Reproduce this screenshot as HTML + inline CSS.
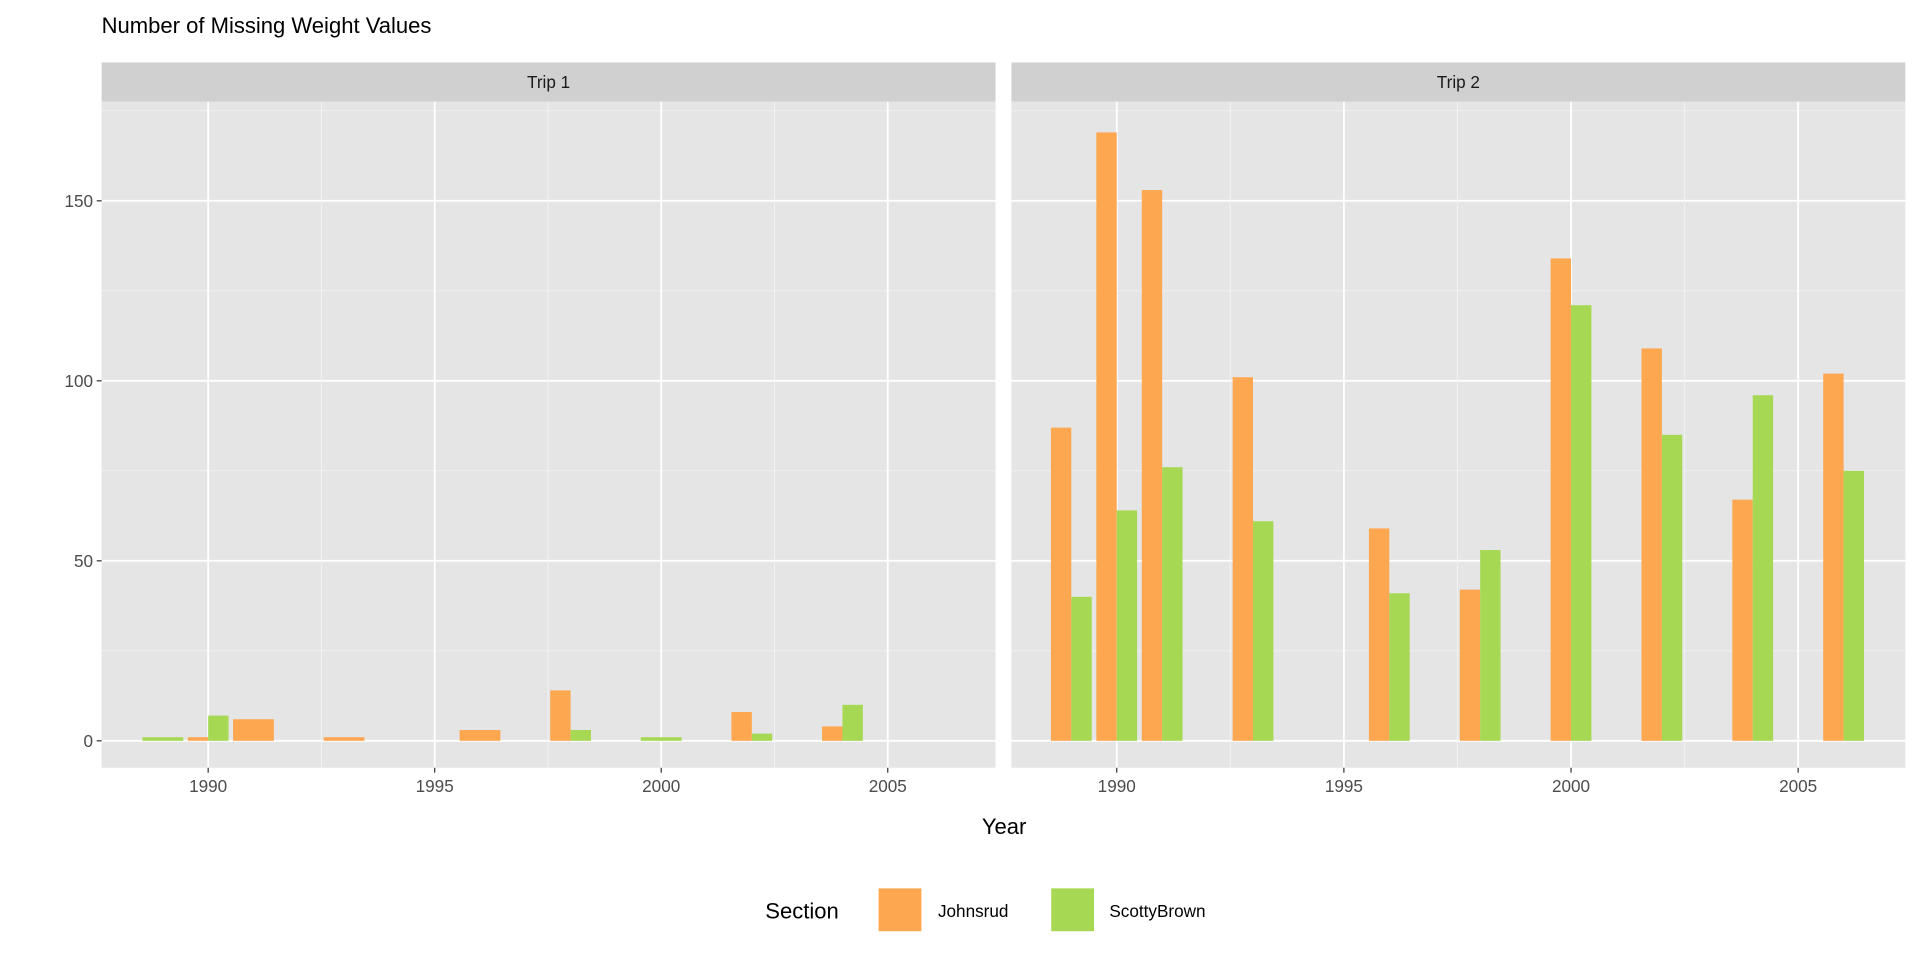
<!DOCTYPE html>
<html><head><meta charset="utf-8"><style>html,body{margin:0;padding:0;background:#fff}svg{display:block}text{font-family:"Liberation Sans",Arial,sans-serif}</style></head>
<body>
<svg width="1920" height="960" viewBox="0 0 1568 784" xmlns="http://www.w3.org/2000/svg">
<rect width="1568" height="784" fill="#fff"/>
<text x="83" y="27" font-size="18" fill="#000">Number of Missing Weight Values</text>
<defs>
<g id="grid">
<rect x="0" y="83" width="730" height="544" fill="#e5e5e5"/>
<g stroke="#f2f2f2" stroke-width="0.8">
<line x1="0" x2="730" y1="531.5" y2="531.5"/><line x1="0" x2="730" y1="384.5" y2="384.5"/><line x1="0" x2="730" y1="237.5" y2="237.5"/><line x1="0" x2="730" y1="90.5" y2="90.5"/>
</g>
<g stroke="#fff" stroke-width="1.5">
<line x1="0" x2="730" y1="605" y2="605"/><line x1="0" x2="730" y1="458" y2="458"/><line x1="0" x2="730" y1="311" y2="311"/><line x1="0" x2="730" y1="164" y2="164"/>
</g>
</g>
</defs>
<g transform="translate(83,0)"><use href="#grid"/></g>
<g stroke="#f2f2f2" stroke-width="0.8"><line x1="262.5" x2="262.5" y1="83" y2="627"/><line x1="447.5" x2="447.5" y1="83" y2="627"/><line x1="632.5" x2="632.5" y1="83" y2="627"/></g>
<g stroke="#fff" stroke-width="1.5"><line x1="170" x2="170" y1="83" y2="627"/><line x1="355" x2="355" y1="83" y2="627"/><line x1="540" x2="540" y1="83" y2="627"/><line x1="725" x2="725" y1="83" y2="627"/></g>
<g transform="translate(826,0)"><use href="#grid"/></g>
<g stroke="#f2f2f2" stroke-width="0.8"><line x1="1004.75" x2="1004.75" y1="83" y2="627"/><line x1="1190.25" x2="1190.25" y1="83" y2="627"/><line x1="1375.75" x2="1375.75" y1="83" y2="627"/></g>
<g stroke="#fff" stroke-width="1.5"><line x1="912" x2="912" y1="83" y2="627"/><line x1="1097.5" x2="1097.5" y1="83" y2="627"/><line x1="1283" x2="1283" y1="83" y2="627"/><line x1="1468.5" x2="1468.5" y1="83" y2="627"/></g>
<rect x="83" y="51" width="730" height="32" fill="#d0d0d0"/>
<rect x="826" y="51" width="730" height="32" fill="#d0d0d0"/>
<text x="448" y="72" font-size="14" fill="#1a1a1a" text-anchor="middle">Trip 1</text>
<text x="1191" y="72" font-size="14" fill="#1a1a1a" text-anchor="middle">Trip 2</text>
<g fill="#FDA750">
<rect x="153.35" y="602.06" width="16.65" height="2.94"/>
<rect x="190.35" y="587.36" width="33.3" height="17.64"/>
<rect x="264.35" y="602.06" width="33.3" height="2.94"/>
<rect x="375.35" y="596.18" width="33.3" height="8.82"/>
<rect x="449.35" y="563.84" width="16.65" height="41.16"/>
<rect x="597.35" y="581.48" width="16.65" height="23.52"/>
<rect x="671.35" y="593.24" width="16.65" height="11.76"/>
<rect x="858.25" y="349.22" width="16.65" height="255.78"/>
<rect x="895.35" y="108.14" width="16.65" height="496.86"/>
<rect x="932.45" y="155.18" width="16.65" height="449.82"/>
<rect x="1006.65" y="308.06" width="16.65" height="296.94"/>
<rect x="1117.95" y="431.54" width="16.65" height="173.46"/>
<rect x="1192.15" y="481.52" width="16.65" height="123.48"/>
<rect x="1266.35" y="211.04" width="16.65" height="393.96"/>
<rect x="1340.55" y="284.54" width="16.65" height="320.46"/>
<rect x="1414.75" y="408.02" width="16.65" height="196.98"/>
<rect x="1488.95" y="305.12" width="16.65" height="299.88"/>
</g>
<g fill="#A6D854">
<rect x="116.35" y="602.06" width="33.3" height="2.94"/>
<rect x="170" y="584.42" width="16.65" height="20.58"/>
<rect x="466" y="596.18" width="16.65" height="8.82"/>
<rect x="523.35" y="602.06" width="33.3" height="2.94"/>
<rect x="614" y="599.12" width="16.65" height="5.88"/>
<rect x="688" y="575.6" width="16.65" height="29.4"/>
<rect x="874.9" y="487.4" width="16.65" height="117.6"/>
<rect x="912" y="416.84" width="16.65" height="188.16"/>
<rect x="949.1" y="381.56" width="16.65" height="223.44"/>
<rect x="1023.3" y="425.66" width="16.65" height="179.34"/>
<rect x="1134.6" y="484.46" width="16.65" height="120.54"/>
<rect x="1208.8" y="449.18" width="16.65" height="155.82"/>
<rect x="1283" y="249.26" width="16.65" height="355.74"/>
<rect x="1357.2" y="355.1" width="16.65" height="249.9"/>
<rect x="1431.4" y="322.76" width="16.65" height="282.24"/>
<rect x="1505.6" y="384.5" width="16.65" height="220.5"/>
</g>
<g stroke="#333" stroke-width="1"><line x1="79" x2="83" y1="605" y2="605"/><line x1="79" x2="83" y1="458" y2="458"/><line x1="79" x2="83" y1="311" y2="311"/><line x1="79" x2="83" y1="164" y2="164"/></g>
<g font-size="14" fill="#4d4d4d" text-anchor="end"><text x="76" y="610">0</text><text x="76" y="463">50</text><text x="76" y="316">100</text><text x="76" y="169">150</text></g>
<g stroke="#333" stroke-width="1">
<line x1="170" x2="170" y1="627" y2="631"/><line x1="355" x2="355" y1="627" y2="631"/><line x1="540" x2="540" y1="627" y2="631"/><line x1="725" x2="725" y1="627" y2="631"/>
<line x1="912" x2="912" y1="627" y2="631"/><line x1="1097.5" x2="1097.5" y1="627" y2="631"/><line x1="1283" x2="1283" y1="627" y2="631"/><line x1="1468.5" x2="1468.5" y1="627" y2="631"/>
</g>
<g font-size="14" fill="#4d4d4d" text-anchor="middle">
<text x="170" y="647">1990</text><text x="355" y="647">1995</text><text x="540" y="647">2000</text><text x="725" y="647">2005</text>
<text x="912" y="647">1990</text><text x="1097.5" y="647">1995</text><text x="1283" y="647">2000</text><text x="1468.5" y="647">2005</text>
</g>
<text x="820" y="681" font-size="18" fill="#000" text-anchor="middle">Year</text>
<text x="625" y="750" font-size="18" fill="#000">Section</text>
<rect x="717" y="725" width="36" height="36" fill="#FDA750" stroke="#fff"/>
<text x="766" y="749" font-size="14" fill="#000">Johnsrud</text>
<rect x="858" y="725" width="36" height="36" fill="#A6D854" stroke="#fff"/>
<text x="906" y="749" font-size="14" fill="#000">ScottyBrown</text>
</svg>
</body></html>
